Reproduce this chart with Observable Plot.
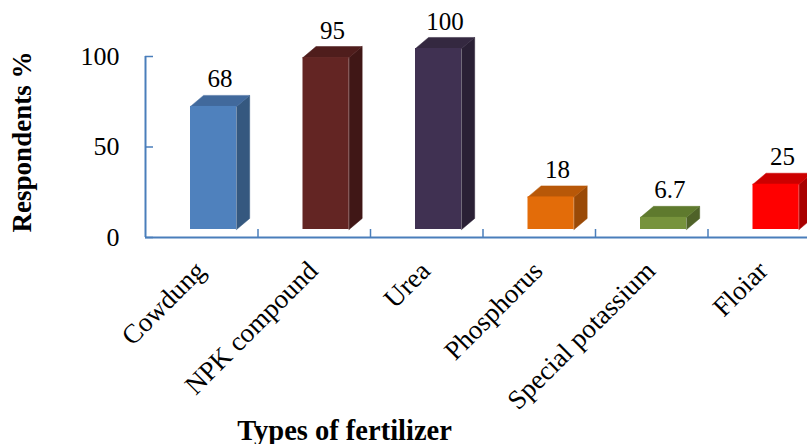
<!DOCTYPE html>
<html>
<head>
<meta charset="utf-8">
<script src="https://cdn.jsdelivr.net/npm/d3@7"></script>
<script src="https://cdn.jsdelivr.net/npm/@observablehq/plot@0.6"></script>
<style>
  html, body { margin: 0; padding: 0; background: #fff; overflow: hidden; }
  #chart { width: 807px; height: 444px; overflow: hidden; }
</style>
</head>
<body>
<div id="chart"></div>
<script>
// ---- data ----
const categories = ["Cowdung", "NPK compound", "Urea", "Phosphorus", "Special potassium", "Floiar"];
const values = [68, 95, 100, 18, 6.7, 25];
const valueLabels = ["68", "95", "100", "18", "6.7", "25"];
const yTicks = [0, 50, 100];
const frontColors = ["#4F81BD", "#632523", "#403152", "#E36C09", "#77933C", "#FF0000"];
const topColors   = ["#41699C", "#4F1D1C", "#342840", "#B85808", "#5F7A2E", "#CC0000"];
const sideColors  = ["#35587F", "#401716", "#2A2035", "#9A4A07", "#4F6228", "#A80000"];

// ---- 3D box geometry (style constants, in scale units) ----
const FRONT_L = 0.40, FRONT_R = 0.81, DEPTH_X = 0.116, DEPTH_Y = 6.1;
const LIFT = -8; // bars float slightly above the axis line (px)

const bars = values.map((v, i) => ({i, v, cat: categories[i], label: valueLabels[i]}));

const faces = [];
bars.forEach(({i, v}) => {
  const xl = i + FRONT_L, xr = i + FRONT_R;
  [[xr, 0], [xr + DEPTH_X, DEPTH_Y], [xr + DEPTH_X, v + DEPTH_Y], [xr, v]]
    .forEach(([x, y]) => faces.push({id: "side" + i, x, y, c: sideColors[i]}));
  [[xl, v], [xl + DEPTH_X, v + DEPTH_Y], [xr + DEPTH_X, v + DEPTH_Y], [xr, v]]
    .forEach(([x, y]) => faces.push({id: "top" + i, x, y, c: topColors[i]}));
});

const axisColor = "#4A7EBB";
const font = "'Liberation Serif', 'Times New Roman', serif";

const chart = Plot.plot({
  width: 807,
  height: 444,
  marginLeft: 145,
  marginRight: 0,
  marginTop: 56,
  marginBottom: 207,
  style: {fontFamily: font, fontSize: "25px", color: "#000", background: "#fff", overflow: "hidden"},
  x: {domain: [0, categories.length], range: [145, 145 + 112.5 * categories.length]},
  y: {domain: [0, 100]},
  color: {type: "identity"},
  marks: [
    // bars: side + top faces
    Plot.line(faces, {x: "x", y: "y", z: "id", fill: "c", stroke: "c", strokeWidth: 0.5, curve: "linear-closed", dy: LIFT}),
    // bars: front faces
    Plot.rect(bars, {x1: d => d.i + FRONT_L, x2: d => d.i + FRONT_R, y1: 0, y2: "v", fill: d => frontColors[d.i], dy: LIFT}),
    // value labels
    Plot.text(bars, {x: d => d.i + 0.662, y: "v", text: "label", dy: -27, lineAnchor: "bottom", fontSize: 25, fill: "#000"}),
    // axis lines
    Plot.ruleX([0], {y1: 0, y2: 100, stroke: axisColor, strokeWidth: 2}),
    Plot.ruleY([0], {x1: 0, x2: categories.length, stroke: axisColor, strokeWidth: 2}),
    // y ticks + labels
    Plot.axisY({ticks: yTicks, tickSize: -8, tickPadding: 34, stroke: axisColor, strokeWidth: 1.5, fill: "#000", fontSize: 26, label: null}),
    // x ticks (category boundaries)
    Plot.axisX({ticks: d3.range(1, categories.length + 1), tickSize: -8, tickFormat: () => "", stroke: axisColor, strokeWidth: 1.5, label: null}),
    // category labels
    Plot.text(bars, {x: d => d.i + 0.5, y: 0, text: "cat", rotate: -45, textAnchor: "end", lineAnchor: "bottom", dx: 5, dy: 35, fontSize: 27, fill: "#000"}),
    // axis titles
    Plot.text(["Types of fertilizer"], {frameAnchor: "bottom", text: d => d, dx: -132, dy: 202, lineAnchor: "bottom", fontSize: 28.5, fontWeight: "bold", fill: "#000"}),
    Plot.text(["Respondents %"], {frameAnchor: "left", text: d => d, dx: -115, dy: -5, rotate: -90, textAnchor: "middle", lineAnchor: "bottom", fontSize: 27, fontWeight: "bold", fill: "#000"})
  ]
});
document.getElementById("chart").appendChild(chart);
</script>
</body>
</html>
